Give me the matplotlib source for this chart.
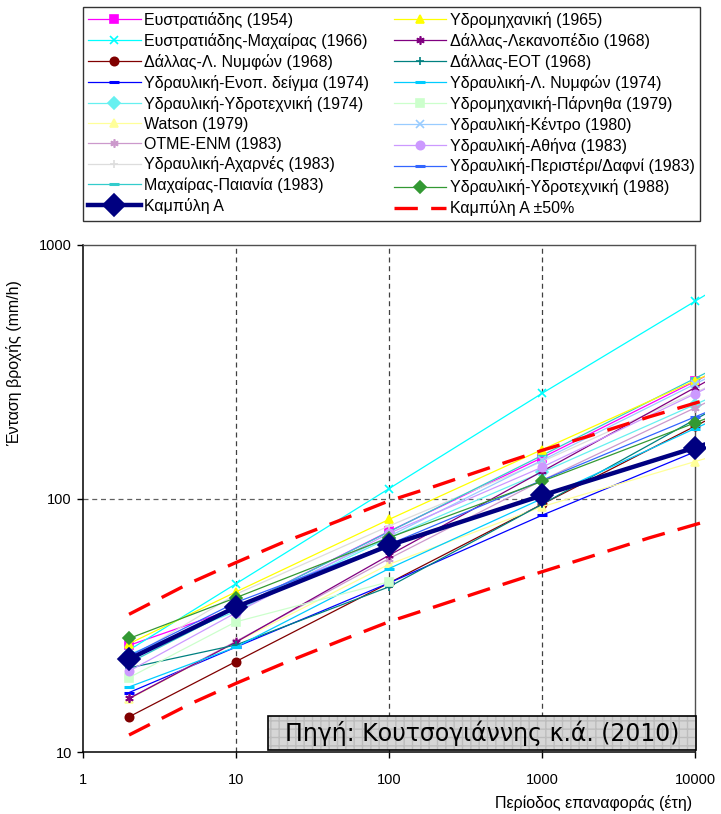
import numpy as np
import matplotlib
matplotlib.use("Agg")
import matplotlib.pyplot as plt
from matplotlib.patches import Rectangle

plt.rcParams['font.family'] = ['Liberation Sans', 'DejaVu Sans']

# return periods (years)
T = [2, 10, 100, 1000, 10000]

# intensity (mm/h) read at T = 2, 10, 100, 1000, 10000
names = [
    "Ευστρατιάδης (1954)",
    "Ευστρατιάδης-Μαχαίρας (1966)",
    "Δάλλας-Λ. Νυμφών (1968)",
    "Υδραυλική-Ενοπ. δείγμα (1974)",
    "Υδραυλική-Υδροτεχνική (1974)",
    "Watson (1979)",
    "ΟΤΜΕ-ΕΝΜ (1983)",
    "Υδραυλική-Αχαρνές (1983)",
    "Μαχαίρας-Παιανία (1983)",
    "Καμπύλη Α",
    "Υδρομηχανική (1965)",
    "Δάλλας-Λεκανοπέδιο (1968)",
    "Δάλλας-ΕΟΤ (1968)",
    "Υδραυλική-Λ. Νυμφών (1974)",
    "Υδρομηχανική-Πάρνηθα (1979)",
    "Υδραυλική-Κέντρο (1980)",
    "Υδραυλική-Αθήνα (1983)",
    "Υδραυλική-Περιστέρι/Δαφνί (1983)",
    "Υδραυλική-Υδροτεχνική (1988)",
]
values = [
    [26.4, 37.0, 74.3, 145, 290],
    [25.3, 46.2, 109.5, 260, 600],
    [13.8, 22.8, 46.5, 95, 193],
    [17.2, 26.0, 46.5, 86, 153],
    [24.3, 36.0, 70.0, 127, 235],
    [16.2, 27.2, 55.1, 93, 140],
    [16.3, 27.4, 58.0, 118, 228],
    [23.5, 42.0, 78.0, 140, 262],
    [22.5, 37.0, 74.0, 148, 298],
    [23.3, 37.4, 65.4, 103, 159],
    [26.8, 42.9, 82.8, 156, 292],
    [16.3, 27.2, 59.8, 128, 274],
    [21.5, 26.5, 44.9, 95, 205],
    [18.1, 26.0, 53.0, 100, 189],
    [19.7, 32.7, 47.0, None, None],
    [24.0, 37.0, 71.0, 141.6, 283],
    [20.9, 35.5, 73.0, 133, 259],
    [24.0, 39.0, 66.0, 118, 210],
    [28.1, 40.7, 70.2, 117, 199],
]
colors = ["#FF00FF", "#00FFFF", "#800000", "#0000FF", "#66F0F0", "#FFFF99",
          "#CC99CC", "#DDDDDD", "#33CCCC", "#000080", "#FFFF00", "#800080",
          "#008080", "#00CCFF", "#CCFFCC", "#99CCFF", "#CC99FF", "#3366FF",
          "#339933"]
markers = ["s", "x", "o", "_", "D", "^", (6, 2, 0), "+", "_", "D", "^",
           (6, 2, 0), "+", "_", "s", "x", "o", "_", "D"]

# Καμπύλη Α ±50% envelopes
T_env = [2, 5, 10, 20, 50, 100, 200, 500, 1000, 2000, 5000, 10000]
upper = [35.0, 46.5, 56.0, 67.0, 83.0, 98.0, 112, 135, 155, 176, 210, 238]
lower = [11.7, 15.5, 18.7, 22.3, 27.8, 32.7, 37.5, 45.0, 51.5, 58.7, 70.0, 79.0]


def extend(x, y):
    # continue the last segment a little past the right axis
    x = [a for a, b in zip(x, y) if b is not None]
    y = [b for b in y if b is not None]
    if x[-1] < 10000:
        return x, y
    lx = np.log10(x[-2:])
    ly = np.log10(y[-2:])
    slope = (ly[1] - ly[0]) / (lx[1] - lx[0])
    x2 = 20000
    y2 = 10 ** (ly[1] + slope * (np.log10(x2) - lx[1]))
    return x + [x2], y + [y2]


fig = plt.figure(figsize=(7.21, 8.14), dpi=100)
ax = fig.add_axes([83 / 721, 1 - 752.3 / 814, 612 / 721, 507.3 / 814])

clip = Rectangle((0, 0), 1.016, 1, transform=ax.transAxes)

handles = {}
order = [i for i in range(len(names)) if i != 9] + [9]
for i in order:
    x, y = extend(T, values[i])
    thick = (i == 9)
    n_pts = len([v for v in values[i] if v is not None])
    ln, = ax.plot(x, y, color=colors[i],
                  lw=3.2 if thick else 0.9,
                  marker=markers[i],
                  ms=11.5 if thick else (7 if markers[i] == "_" else 6),
                  mew=2.2 if markers[i] == "_" else 1.2,
                  markevery=list(range(n_pts)),
                  zorder=5 if thick else 3, label=names[i])
    ln.set_clip_path(clip)
    handles[i] = ln

xe, ye = extend(T_env, upper)
l_up, = ax.plot(xe, ye, color="#FF0000", lw=2.4, dashes=(7, 4), zorder=4,
                label="Καμπύλη Α ±50%")
l_up.set_clip_path(clip)
xe, ye = extend(T_env, lower)
l_lo, = ax.plot(xe, ye, color="#FF0000", lw=2.4, dashes=(7, 4), zorder=4)
l_lo.set_clip_path(clip)

ax.set_xscale("log")
ax.set_yscale("log")
ax.set_xlim(1, 10000)
ax.set_ylim(10, 1000)
ax.set_xticks([1, 10, 100, 1000, 10000])
ax.set_xticklabels(["1", "10", "100", "1000", "10000"])
ax.set_yticks([10, 100, 1000])
ax.set_yticklabels(["10", "100", "1000"])
ax.minorticks_off()
ax.tick_params(axis="both", labelsize=10.5, length=4, width=1, direction="out")
ax.tick_params(axis="x", pad=11)
ax.tick_params(axis="y", pad=4)

for xv in [10, 100, 1000]:
    ax.axvline(xv, color="#404040", lw=0.9, ls=(0, (4, 3)), zorder=1)
ax.axhline(100, color="#606060", lw=0.9, ls=(0, (4, 3)), zorder=1)

for s in ["left", "bottom"]:
    ax.spines[s].set_color("black")
    ax.spines[s].set_linewidth(1.1)
for s in ["top", "right"]:
    ax.spines[s].set_color("#505050")
    ax.spines[s].set_linewidth(1.0)

ax.set_ylabel("Ένταση βροχής (mm/h)", fontsize=11.5)
ax.yaxis.set_label_coords(-0.1, 0.768)
ax.set_xlabel("Περίοδος επαναφοράς (έτη)", fontsize=11.5, ha="right")
ax.xaxis.set_label_coords(0.995, -0.085)

# source box
bx0, bx1 = (268 - 83) / 612, (696 - 83) / 612
by0, by1 = (752.3 - 750) / 507.3, (752.3 - 716) / 507.3
ax.add_patch(Rectangle((bx0, by0), bx1 - bx0, by1 - by0, transform=ax.transAxes,
                       facecolor="#D6D6D6", edgecolor="#BDBDBD", hatch="++",
                       lw=0, zorder=8, clip_on=False))
ax.add_patch(Rectangle((bx0, by0), bx1 - bx0, by1 - by0, transform=ax.transAxes,
                       facecolor="none", edgecolor="black", lw=1.2,
                       zorder=9, clip_on=False))
ax.text((bx0 + bx1) / 2, (by0 + by1) / 2, "Πηγή: Κουτσογιάννης κ.ά. (2010)",
        transform=ax.transAxes, ha="center", va="center", fontsize=17,
        family=["DejaVu Sans"], zorder=10)

leg_handles = [handles[i] for i in range(10)] + [handles[i] for i in range(10, 19)] + [l_up]
leg_labels = [h.get_label() for h in leg_handles]
leg = fig.legend(leg_handles, leg_labels, loc="upper left",
                 bbox_to_anchor=(83 / 721, 1 - 218 / 814, 617 / 721, 211 / 814),
                 mode="expand", ncol=2, fontsize=11.5, frameon=True,
                 fancybox=False, edgecolor="black", borderaxespad=0,
                 handlelength=3.3, handletextpad=0.25, labelspacing=0.31,
                 borderpad=0.3, columnspacing=0.5)
leg.get_frame().set_linewidth(1.0)

fig.savefig("out.png", dpi=100)
